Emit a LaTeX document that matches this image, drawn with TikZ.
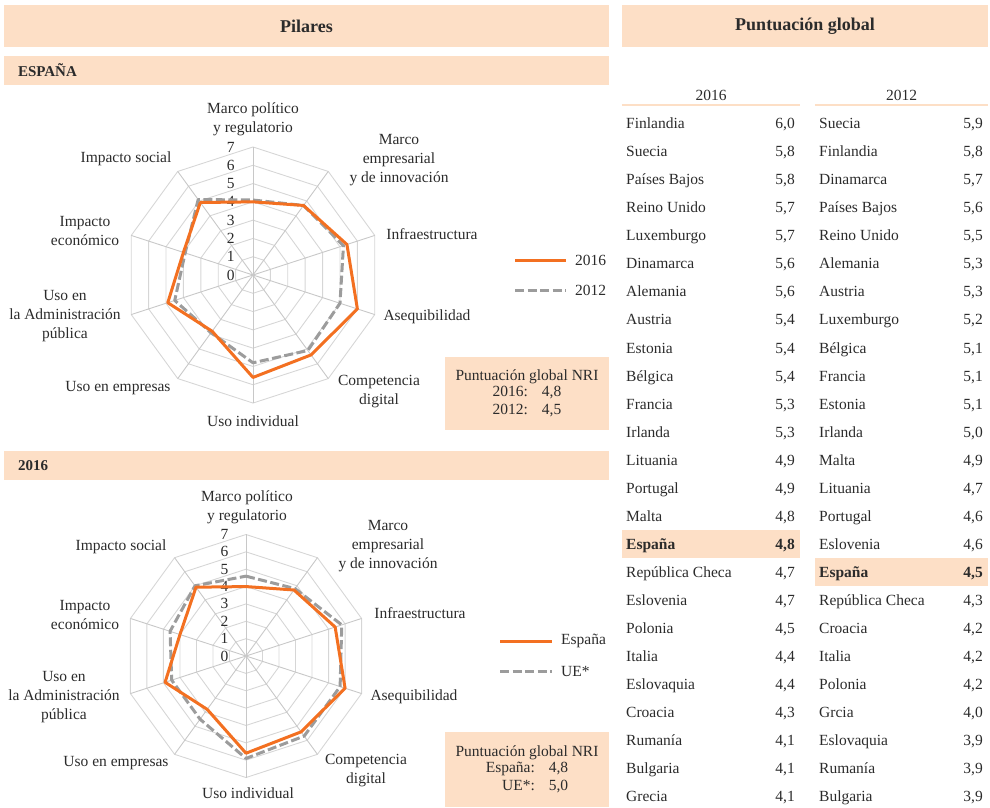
\documentclass[tikz,border=0pt]{standalone}
\usepackage{fontspec}
\setmainfont{Liberation Serif}
\usetikzlibrary{positioning}
\definecolor{headFill}{HTML}{FDDFC6}
\definecolor{txtDark}{HTML}{2B2B2B}
\definecolor{espLine}{HTML}{F37021}
\definecolor{refLine}{HTML}{9C9C9C}
\definecolor{ringLine}{HTML}{D6D6D6}
\definecolor{spokeLine}{HTML}{C8C8C8}
\tikzset{
  x=1pt, y=1pt,
  font=\fontsize{15.5}{19}\selectfont, text=txtDark,
  head/.style ={fill=headFill, inner xsep=14pt, inner ysep=0pt},
  title/.style={font=\fontsize{18}{20}\selectfont\bfseries},
  sect/.style ={font=\fontsize{15}{18}\selectfont\bfseries, align=left},
  axlab/.style={align=center, inner sep=0pt},
  tick/.style ={anchor=east, inner sep=0pt},
  ring/.style ={draw=ringLine, line width=0.9pt},
  spoke/.style={draw=spokeLine, line width=0.9pt},
  esp/.style  ={draw=espLine, line width=3pt, line join=round},
  ref/.style  ={draw=refLine, line width=3pt, dash pattern=on 9pt off 3.5pt, line join=round},
  lgtext/.style={anchor=west, inner sep=0pt},
  nri/.style  ={fill=headFill, minimum width=164pt, align=center, font=\fontsize{15.5}{18}\selectfont},
  colhead/.style={minimum height=20pt, inner sep=0pt},
  rule/.style ={draw=headFill, line width=2.5pt},
  hl/.style   ={fill=headFill, minimum height=28pt, inner sep=0pt},
  row/.style  ={anchor=base west, inner sep=0pt},
  rowbf/.style={row, font=\fontsize{15.5}{19}\selectfont\bfseries},
  val/.style  ={anchor=base east, inner sep=0pt},
}
\begin{document}
\begin{tikzpicture}
  \useasboundingbox (0,0) rectangle (990,-807);

  % headers
  \node[head, title, minimum width=605pt, minimum height=42pt] (pilares) at (306.5,-26) {Pilares};
  \node[head, title, minimum width=366pt, minimum height=42pt] (global)  at (805,-26)   {Puntuación global};
  \node[head, sect, text width=577pt, minimum height=29pt] (espana) at (306.5,-70.5)  {ESPAÑA};
  \node[head, sect, text width=577pt, minimum height=29pt] (anio)   at (306.5,-465.5) {2016};

  % radar 1: Espana 2016 vs 2012
  \begin{scope}[shift={(253,-275)}, x=18.29pt, y=18.29pt]
    \foreach \r in {1,...,7}
      \draw[ring] (90:\r) \foreach \k in {1,...,9} {-- (90-36*\k:\r)} -- cycle;
    \foreach \k in {0,...,9} \draw[spoke] (0,0) -- (90-36*\k:7);
    \foreach \r in {0,...,7} \node[tick] (ta\r) at (-1.0,\r) {\r};
    \draw[ref] (90:4.1) -- (54:4.7) -- (18:5.2) -- (-18:5.0) -- (-54:5.1) -- (-90:4.8)
               -- (-126:3.9) -- (-162:4.5) -- (162:3.9) -- (126:5.1) -- cycle;
    \draw[esp] (90:4.0) -- (54:4.7) -- (18:5.4) -- (-18:6.0) -- (-54:5.4) -- (-90:5.6)
               -- (-126:3.8) -- (-162:4.9) -- (162:4.0) -- (126:4.9) -- cycle;
  \end{scope}
  \node[axlab] (a1pol) at (253,-119)  {Marco político\\y regulatorio};
  \node[axlab] (a1emp) at (399,-160)  {Marco\\empresarial\\y de innovación};
  \node[axlab] (a1inf) at (432,-234)  {Infraestructura};
  \node[axlab] (a1ase) at (427,-317)  {Asequibilidad};
  \node[axlab] (a1com) at (379,-392)  {Competencia\\digital};
  \node[axlab] (a1ind) at (253,-421)  {Uso individual};
  \node[axlab] (a1ue)  at (118,-388)  {Uso en empresas};
  \node[axlab] (a1adm) at (65,-316)   {Uso en\\la Administración\\pública};
  \node[axlab] (a1eco) at (85,-231)   {Impacto\\económico};
  \node[axlab] (a1soc) at (126,-159)  {Impacto social};

  \node[lgtext] (lg16) at (575,-260) {2016};
  \node[lgtext] (lg12) at (575,-290) {2012};
  \draw[esp] ([xshift=-60pt]lg16.west) -- ([xshift=-9pt]lg16.west);
  \draw[ref] ([xshift=-60pt]lg12.west) -- ([xshift=-9pt]lg12.west);

  \node[nri, minimum height=73pt] (nri1) at (527,-393.5)
    {\raisebox{0pt}[14pt][0pt]{}Puntuación global NRI\\[-1pt]
     \begin{tabular}{@{}r@{\hspace{14pt}}l@{}}2016: & 4,8\\ 2012: & 4,5\end{tabular}};

  % radar 2: Espana vs UE, 2016
  \begin{scope}[shift={(246,-656)}, x=17.36pt, y=17.36pt]
    \foreach \r in {1,...,7}
      \draw[ring] (90:\r) \foreach \k in {1,...,9} {-- (90-36*\k:\r)} -- cycle;
    \foreach \k in {0,...,9} \draw[spoke] (0,0) -- (90-36*\k:7);
    \foreach \r in {0,...,7} \node[tick] (tb\r) at (-1.0,\r) {\r};
    \draw[ref] (90:4.6) -- (54:4.8) -- (18:5.8) -- (-18:5.7) -- (-54:5.7) -- (-90:5.9)
               -- (-126:4.5) -- (-162:4.5) -- (162:4.6) -- (126:5.0) -- cycle;
    \draw[esp] (90:4.0) -- (54:4.7) -- (18:5.4) -- (-18:6.0) -- (-54:5.4) -- (-90:5.6)
               -- (-126:3.8) -- (-162:4.9) -- (162:4.0) -- (126:4.9) -- cycle;
  \end{scope}
  \node[axlab] (a2pol) at (247,-507)  {Marco político\\y regulatorio};
  \node[axlab] (a2emp) at (388,-546)  {Marco\\empresarial\\y de innovación};
  \node[axlab] (a2inf) at (420,-613)  {Infraestructura};
  \node[axlab] (a2ase) at (414,-697)  {Asequibilidad};
  \node[axlab] (a2com) at (366,-771)  {Competencia\\digital};
  \node[axlab] (a2ind) at (248,-793)  {Uso individual};
  \node[axlab] (a2ue)  at (116,-763)  {Uso en empresas};
  \node[axlab] (a2adm) at (64,-697)   {Uso en\\la Administración\\pública};
  \node[axlab] (a2eco) at (85,-615)   {Impacto\\económico};
  \node[axlab] (a2soc) at (121,-547)  {Impacto social};

  \node[lgtext] (lgesp) at (561,-641) {España};
  \node[lgtext] (lgue)  at (561,-671) {UE*};
  \draw[esp] ([xshift=-61pt]lgesp.west) -- ([xshift=-9pt]lgesp.west);
  \draw[ref] ([xshift=-61pt]lgue.west)  -- ([xshift=-9pt]lgue.west);

  \node[nri, minimum height=75pt] (nri2) at (527,-769.5)
    {\raisebox{0pt}[14pt][0pt]{}Puntuación global NRI\\[-1pt]
     \begin{tabular}{@{}r@{\hspace{14pt}}l@{}}España: & 4,8\\ UE*: & 5,0\end{tabular}};

  % ranking table
  \node[colhead, minimum width=178pt] (h16) at (711,-95)   {2016};
  \node[colhead, minimum width=173pt] (h12) at (901.5,-95) {2012};
  \draw[rule] (h16.south west) -- (h16.south east);
  \draw[rule] (h12.south west) -- (h12.south east);

  \node[hl, minimum width=178pt] (es16) at (711,-543.6)   {};
  \node[hl, minimum width=173pt] (es12) at (901.5,-571.6) {};

  \foreach \n/\v/\s [count=\i from 0] in {Finlandia/{6,0}/row, Suecia/{5,8}/row,
      Países Bajos/{5,8}/row, Reino Unido/{5,7}/row, Luxemburgo/{5,7}/row,
      Dinamarca/{5,6}/row, Alemania/{5,6}/row, Austria/{5,4}/row, Estonia/{5,4}/row,
      Bélgica/{5,4}/row, Francia/{5,3}/row, Irlanda/{5,3}/row, Lituania/{4,9}/row,
      Portugal/{4,9}/row, Malta/{4,8}/row, España/{4,8}/rowbf,
      República Checa/{4,7}/row, Eslovenia/{4,7}/row, Polonia/{4,5}/row,
      Italia/{4,4}/row, Eslovaquia/{4,4}/row, Croacia/{4,3}/row, Rumanía/{4,1}/row,
      Bulgaria/{4,1}/row, Grecia/{4,1}/row} {
    \node[\s] (n16-\i) at (626,-128.7-28.04*\i) {\n};
    \node[\s, val] (v16-\i) at (795,-128.7-28.04*\i) {\v};
  }
  \foreach \n/\v/\s [count=\i from 0] in {Suecia/{5,9}/row, Finlandia/{5,8}/row,
      Dinamarca/{5,7}/row, Países Bajos/{5,6}/row, Reino Unido/{5,5}/row,
      Alemania/{5,3}/row, Austria/{5,3}/row, Luxemburgo/{5,2}/row, Bélgica/{5,1}/row,
      Francia/{5,1}/row, Estonia/{5,1}/row, Irlanda/{5,0}/row, Malta/{4,9}/row,
      Lituania/{4,7}/row, Portugal/{4,6}/row, Eslovenia/{4,6}/row, España/{4,5}/rowbf,
      República Checa/{4,3}/row, Croacia/{4,2}/row, Italia/{4,2}/row,
      Polonia/{4,2}/row, Grcia/{4,0}/row, Eslovaquia/{3,9}/row, Rumanía/{3,9}/row,
      Bulgaria/{3,9}/row} {
    \node[\s] (n12-\i) at (819,-128.7-28.04*\i) {\n};
    \node[\s, val] (v12-\i) at (983,-128.7-28.04*\i) {\v};
  }
\end{tikzpicture}
\end{document}
